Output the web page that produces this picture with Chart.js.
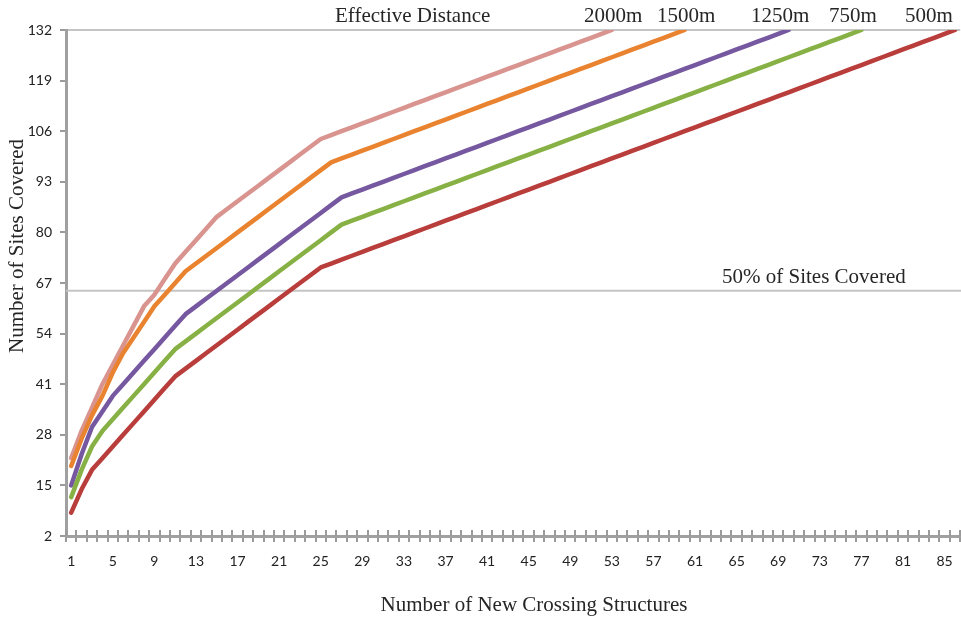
<!DOCTYPE html>
<html><head><meta charset="utf-8">
<script src="https://cdn.jsdelivr.net/npm/chart.js@4/dist/chart.umd.min.js"></script>
<style>
html,body{margin:0;padding:0;overflow:hidden;background:#fff;width:961px;height:618px}
#wrap{position:absolute;left:0;top:0;width:966px;height:618px}
</style>
</head><body>
<div id="wrap"><canvas id="c" width="966" height="618"></canvas></div>
<script>
const categories = [1,2,3,4,5,6,7,8,9,10,11,12,13,14,15,16,17,18,19,20,21,22,23,24,25,26,27,28,29,30,31,32,33,34,35,36,37,38,39,40,41,42,43,44,45,46,47,48,49,50,51,52,53,54,55,56,57,58,59,60,61,62,63,64,65,66,67,68,69,70,71,72,73,74,75,76,77,78,79,80,81,82,83,84,85,86];
const xTickLabels = ['1','5','9','13','17','21','25','29','33','37','41','45','49','53','57','61','65','69','73','77','81','85'];
const yMin = 2, yMax = 132, yStep = 13;
const halfLine = 65;

const d2000 = [22,29,35,41,46,51,56,61,64,68,72,75,78,81,84,86,88,90,92,94,96,98,100,102,104,105,106,107,108,109,110,111,112,113,114,115,116,117,118,119,120,121,122,123,124,125,126,127,128,129,130,131,132];
const d1500 = [20,27,33,38,44,49,53,57,61,64,67,70,72,74,76,78,80,82,84,86,88,90,92,94,96,98,99,100,101,102,103,104,105,106,107,108,109,110,111,112,113,114,115,116,117,118,119,120,121,122,123,124,125,126,127,128,129,130,131,132];
const d1250 = [15,23,30,34,38,41,44,47,50,53,56,59,61,63,65,67,69,71,73,75,77,79,81,83,85,87,89,90,91,92,93,94,95,96,97,98,99,100,101,102,103,104,105,106,107,108,109,110,111,112,113,114,115,116,117,118,119,120,121,122,123,124,125,126,127,128,129,130,131,132];
const d750 = [12,19,25,29,32,35,38,41,44,47,50,52,54,56,58,60,62,64,66,68,70,72,74,76,78,80,82,83,84,85,86,87,88,89,90,91,92,93,94,95,96,97,98,99,100,101,102,103,104,105,106,107,108,109,110,111,112,113,114,115,116,117,118,119,120,121,122,123,124,125,126,127,128,129,130,131,132];
const d500 = [8,14,19,22,25,28,31,34,37,40,43,45,47,49,51,53,55,57,59,61,63,65,67,69,71,72,73,74,75,76,77,78,79,80,81,82,83,84,85,86,87,88,89,90,91,92,93,94,95,96,97,98,99,100,101,102,103,104,105,106,107,108,109,110,111,112,113,114,115,116,117,118,119,120,121,122,123,124,125,126,127,128,129,130,131,132];

const colors = {'500m':'#b93d3b','750m':'#87b145','1250m':'#7658a0','1500m':'#e9832f','2000m':'#d9948f'};
const dataBy = {'500m':d500,'750m':d750,'1250m':d1250,'1500m':d1500,'2000m':d2000};

const serif = '"Liberation Serif", "DejaVu Serif", serif';
const sans = 'Lato, "Open Sans", sans-serif';

const annot = {
  id:'annot',
  beforeDatasetsDraw(chart){
    const ctx = chart.ctx, x = chart.scales.x, y = chart.scales.y, a = chart.chartArea;
    const yy = y.getPixelForValue(halfLine);
    ctx.save();
    ctx.strokeStyle = '#c4c4c4'; ctx.lineWidth = 2;
    ctx.beginPath(); ctx.moveTo(a.left, yy); ctx.lineTo(chart.width, yy); ctx.stroke();
    const w = x.getPixelForValue(1) - x.getPixelForValue(0);
    ctx.strokeStyle = '#9a9a9a'; ctx.lineWidth = 2;
    ctx.beginPath();
    for (let i = 0; i <= categories.length; i++) {
      const px = Math.round(x.getPixelForValue(0) - w/2 + i*w);
      ctx.moveTo(px, a.bottom - 6); ctx.lineTo(px, a.bottom);
    }
    ctx.stroke();
    ctx.restore();
  },
  afterDraw(chart){
    const ctx = chart.ctx;
    ctx.save();
    ctx.fillStyle = '#262626';
    ctx.textBaseline = 'middle';
    ctx.font = '21px ' + serif;
    ctx.textAlign = 'left';
    ctx.fillText('Effective Distance', 335, 16);
    ctx.fillText('2000m', 584, 16);
    ctx.fillText('1500m', 657, 16);
    ctx.fillText('1250m', 751, 16);
    ctx.fillText('750m', 829, 16);
    ctx.fillText('500m', 905, 16);
    ctx.fillText('50% of Sites Covered', 722, 277);
    ctx.textAlign = 'center';
    ctx.fillText('Number of New Crossing Structures', 534, 605);
    ctx.translate(17, 246);
    ctx.rotate(-Math.PI/2);
    ctx.fillText('Number of Sites Covered', 0, 0);
    ctx.restore();
  }
};

const order = ['500m','750m','1250m','1500m','2000m'];
new Chart(document.getElementById('c'), {
  type:'line',
  data:{
    labels: categories,
    datasets: order.map(n => ({
      label:n, data:dataBy[n], borderColor:colors[n], backgroundColor:colors[n],
      borderWidth:4.5, pointRadius:0, tension:0, fill:false,
      borderCapStyle:'round', borderJoinStyle:'round'
    }))
  },
  options:{
    responsive:false, animation:false, devicePixelRatio:1,
    layout:{padding:{top:30,right:2,left:0,bottom:0}},
    plugins:{legend:{display:false}, tooltip:{enabled:false}, title:{display:false}},
    scales:{
      x:{
        type:'category', offset:true,
        grid:{offset:true, drawOnChartArea:false, drawTicks:true, tickLength:6, color:'#9a9a9a', tickColor:'#9a9a9a', lineWidth:2},
        border:{display:true, color:'#a0a0a0', width:3},
        ticks:{autoSkip:false, maxRotation:0, minRotation:0, padding:11, color:'#222', font:{family:sans, size:14},
          callback:function(v, i){ const l = String(categories[i]); return xTickLabels.includes(l) ? l : ''; }},
        afterFit:s => { s.height = 82; }
      },
      y:{
        min:yMin, max:yMax,
        grid:{drawTicks:true, tickLength:6, lineWidth:2,
          color:c => (c.tick && c.tick.value === yMax) ? '#c4c4c4' : 'rgba(0,0,0,0)',
          tickColor:'#9a9a9a'},
        border:{display:true, color:'#a0a0a0', width:3},
        ticks:{stepSize:yStep, padding:8, color:'#222', font:{family:sans, size:14}},
        afterFit:s => { s.width = 66; }
      }
    }
  },
  plugins:[annot]
});
</script>
</body></html>
